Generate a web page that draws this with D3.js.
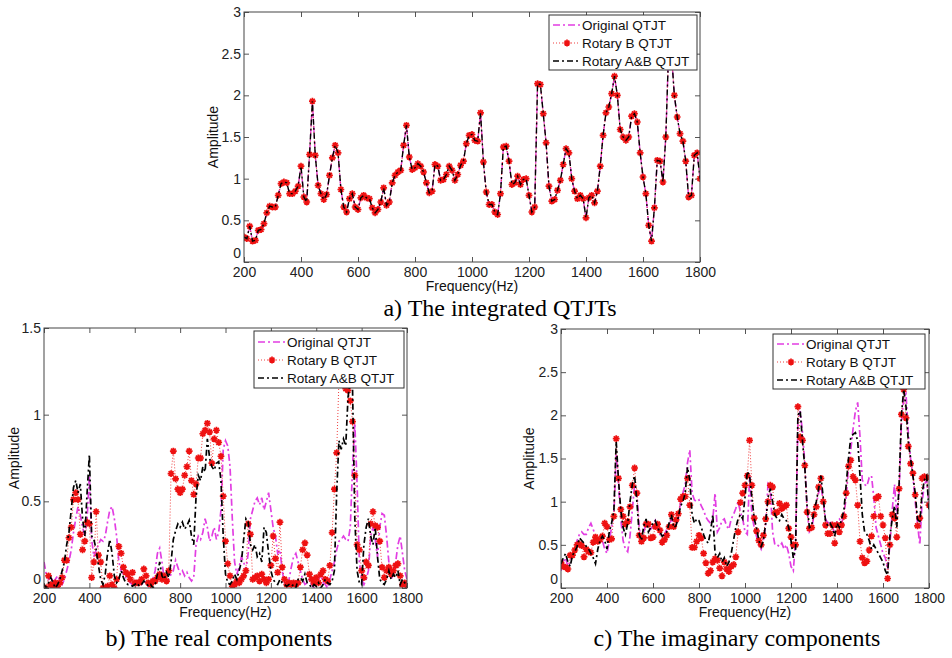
<!DOCTYPE html>
<html>
<head>
<meta charset="utf-8">
<script src="https://cdn.jsdelivr.net/npm/d3@7"></script>
<style>
body { margin: 0; background: #fff; }
svg text { font-family: "Liberation Sans", Arial, sans-serif; }
</style>
</head>
<body>
<div id="chart"></div>
<script>
// sample grid (Hz) and axis ticks
const freqHz = d3.range(200, 1801, 10);
const xTickVals = [200, 400, 600, 800, 1000, 1200, 1400, 1600, 1800];
const yTicksA = [0, 0.5, 1, 1.5, 2, 2.5, 3];
const yTicksB = [0, 0.5, 1, 1.5];
const yTicksC = [0, 0.5, 1, 1.5, 2, 2.5, 3];
const seriesNames = ['Original QTJT', 'Rotary B QTJT', 'Rotary A&B QTJT'];

// a) integrated - the three curves lie on top of each other
const integratedAmp = [
  0.30,0.28,0.43,0.25,0.26,0.38,0.39,0.46,0.59,0.67,
  0.66,0.66,0.80,0.94,0.96,0.95,0.82,0.82,0.85,0.91,
  1.15,0.78,0.72,1.29,1.93,1.28,0.92,0.82,0.75,0.81,
  1.04,1.25,1.40,1.31,0.87,0.66,0.60,0.76,0.82,0.66,
  0.63,0.77,0.80,0.77,0.76,0.65,0.59,0.63,0.72,0.89,
  0.68,0.72,0.95,1.04,1.08,1.10,1.40,1.64,1.26,1.11,
  1.13,1.18,1.15,1.08,0.95,0.83,0.85,1.17,1.15,0.98,
  0.99,1.05,1.15,1.10,0.98,1.05,1.16,1.21,1.42,1.52,
  1.53,1.46,1.45,1.79,1.20,0.84,0.69,0.69,0.60,0.57,
  0.82,1.38,1.39,1.21,0.93,0.95,1.03,0.93,0.99,1.00,
  0.80,0.60,0.66,2.14,2.13,1.78,1.43,0.91,0.73,0.75,
  0.86,0.98,1.17,1.36,1.31,1.00,0.85,0.76,0.80,0.76,
  0.53,0.77,0.80,0.71,0.85,1.15,1.52,1.79,1.86,2.02,
  2.23,2.00,1.59,1.50,1.46,1.50,1.75,1.78,1.68,1.31,
  1.02,0.82,0.44,0.25,0.65,1.22,1.21,0.96,1.50,2.55,
  2.50,2.00,1.74,1.54,1.45,1.21,0.78,0.80,1.28,1.31,
  1.00
];

// b) real components
const realOriginal = [
  0.15,0.08,0.05,0.07,0.03,0.05,0.07,0.04,0.02,0.05,
  0.10,0.15,0.22,0.32,0.40,0.47,0.42,0.35,0.30,0.40,
  0.65,0.28,0.18,0.22,0.25,0.28,0.27,0.30,0.38,0.45,
  0.47,0.40,0.30,0.15,0.10,0.08,0.06,0.05,0.03,0.02,
  0.03,0.05,0.03,0.02,0.04,0.03,0.01,0.03,0.05,0.10,
  0.20,0.23,0.15,0.05,0.03,0.05,0.08,0.10,0.16,0.12,
  0.08,0.10,0.07,0.09,0.06,0.04,0.06,0.25,0.30,0.28,
  0.32,0.40,0.35,0.27,0.30,0.35,0.28,0.32,0.45,0.80,
  0.85,0.82,0.70,0.40,0.15,0.08,0.12,0.18,0.15,0.10,
  0.20,0.40,0.45,0.50,0.52,0.48,0.52,0.45,0.50,0.55,
  0.45,0.35,0.30,0.20,0.22,0.10,0.03,0.02,0.05,0.12,
  0.18,0.20,0.15,0.10,0.05,0.02,0.03,0.05,0.02,0.00,
  0.02,0.05,0.08,0.03,0.02,0.00,0.05,0.10,0.15,0.22,
  0.27,0.28,0.30,0.28,0.27,0.35,0.70,0.95,0.60,0.15,
  0.05,0.02,0.05,0.10,0.30,0.35,0.28,0.18,0.35,0.43,
  0.42,0.30,0.15,0.05,0.08,0.15,0.25,0.30,0.20,0.10,
  0.05
];
const realRotB = [
  0.00,0.00,0.07,0.02,0.00,0.03,0.01,0.03,0.06,0.16,
  0.16,0.29,0.35,0.51,0.55,0.51,0.31,0.22,0.27,0.38,
  0.37,0.06,0.15,0.44,0.19,0.15,0.00,0.00,0.01,0.07,
  0.02,0.00,0.05,0.24,0.20,0.12,0.09,0.08,0.05,0.09,
  0.03,0.03,0.03,0.05,0.11,0.07,0.03,0.02,0.04,0.04,
  0.06,0.08,0.05,0.07,0.04,0.10,0.66,0.79,0.63,0.57,
  0.55,0.57,0.65,0.70,0.79,0.62,0.54,0.60,0.75,0.75,
  0.89,0.91,0.95,0.90,0.72,0.86,0.91,0.84,0.76,0.53,
  0.27,0.14,0.07,0.01,0.02,0.04,0.03,0.05,0.07,0.10,
  0.37,0.31,0.05,0.06,0.07,0.04,0.08,0.05,0.03,0.05,
  0.13,0.30,0.17,0.09,0.38,0.12,0.05,0.02,0.03,0.02,
  0.03,0.02,0.03,0.12,0.22,0.26,0.19,0.08,0.05,0.03,
  0.06,0.03,0.08,0.10,0.05,0.04,0.13,0.32,0.57,0.78,
  1.20,1.25,1.22,1.15,1.14,1.08,0.96,0.65,0.25,0.22,
  0.10,0.06,0.15,0.13,0.37,0.44,0.36,0.35,0.27,0.12,
  0.06,0.10,0.12,0.08,0.10,0.13,0.14,0.07,0.02,0.03,
  0.01
];
const realRotAB = [
  0.02,0.00,0.03,0.06,0.03,0.00,0.02,0.05,0.10,0.15,
  0.25,0.32,0.45,0.58,0.62,0.55,0.60,0.40,0.30,0.55,
  0.77,0.30,0.28,0.22,0.13,0.05,0.02,0.08,0.20,0.28,
  0.20,0.07,0.03,0.05,0.10,0.06,0.03,0.02,0.02,0.01,
  0.02,0.03,0.01,0.02,0.04,0.03,0.01,0.02,0.00,0.02,
  0.08,0.15,0.07,0.05,0.09,0.06,0.15,0.28,0.33,0.37,
  0.35,0.38,0.34,0.36,0.39,0.30,0.25,0.52,0.65,0.62,
  0.70,0.67,0.86,0.75,0.70,0.68,0.72,0.73,0.62,0.30,
  0.08,0.03,0.02,0.04,0.08,0.05,0.10,0.15,0.28,0.40,
  0.38,0.25,0.22,0.25,0.18,0.20,0.15,0.35,0.32,0.20,
  0.10,0.05,0.03,0.02,0.05,0.03,0.02,0.01,0.02,0.01,
  0.02,0.00,0.05,0.06,0.04,0.08,0.03,0.02,0.00,0.02,
  0.01,0.03,0.00,0.02,0.05,0.03,0.02,0.04,0.10,0.55,
  0.85,0.80,0.86,0.82,1.10,1.20,1.15,0.40,0.10,0.03,
  0.02,0.25,0.35,0.40,0.30,0.25,0.35,0.18,0.05,0.03,
  0.02,0.05,0.10,0.05,0.08,0.06,0.10,0.02,0.05,0.03,
  0.01
];

// c) imaginary components
const imagOriginal = [
  0.20,0.30,0.35,0.25,0.30,0.40,0.45,0.55,0.62,0.65,
  0.62,0.62,0.70,0.75,0.68,0.60,0.55,0.58,0.55,0.45,
  0.40,0.55,0.70,0.85,1.55,1.20,0.80,0.55,0.45,0.42,
  0.60,0.90,1.20,1.10,0.70,0.55,0.65,0.75,0.70,0.68,
  0.72,0.78,0.70,0.62,0.60,0.62,0.68,0.72,0.80,0.75,
  0.72,0.80,1.00,1.10,1.20,1.45,1.60,1.10,1.02,1.00,
  1.02,0.95,0.90,0.82,0.78,0.75,0.80,1.10,0.65,0.70,
  0.78,0.80,0.72,0.68,0.80,0.85,0.92,1.00,0.88,0.80,
  0.65,0.62,1.30,0.85,0.70,0.60,0.50,0.45,0.55,0.75,
  1.20,1.15,0.65,0.50,0.50,0.48,0.52,0.45,0.50,0.40,
  0.25,0.20,0.55,1.90,2.05,1.80,1.45,0.90,0.65,0.68,
  0.85,0.98,1.10,1.20,1.00,0.80,0.75,0.78,0.72,0.62,
  0.78,0.80,0.75,0.85,1.05,1.40,1.60,1.85,2.05,2.15,
  1.75,1.25,1.20,1.18,1.28,1.30,1.05,0.70,0.60,0.50,
  0.40,0.35,0.22,0.50,0.90,1.20,0.85,1.10,1.90,2.20,
  2.25,1.80,1.50,1.30,1.00,0.75,0.50,1.00,1.20,1.25,
  0.95
];
const imagRotB = [
  0.29,0.25,0.24,0.22,0.38,0.38,0.44,0.50,0.51,0.49,
  0.36,0.45,0.42,0.41,0.53,0.59,0.54,0.56,0.60,0.75,
  0.71,0.56,0.57,0.83,1.73,1.27,0.91,0.83,0.74,0.77,
  0.94,1.19,1.39,1.10,0.61,0.54,0.58,0.74,0.74,0.58,
  0.59,0.71,0.74,0.67,0.53,0.56,0.61,0.71,0.85,0.71,
  0.79,0.86,1.03,1.06,1.06,1.27,0.96,0.47,0.47,0.54,
  0.61,0.58,0.40,0.29,0.17,0.20,0.30,0.34,0.32,0.23,
  0.14,0.30,0.22,0.19,0.25,0.27,0.36,0.65,0.99,1.10,
  1.19,1.30,1.71,1.19,0.81,0.66,0.55,0.50,0.61,0.80,
  1.00,1.19,1.17,0.87,0.88,0.98,0.92,0.94,0.96,0.69,
  0.59,0.50,0.50,2.10,1.75,1.71,1.42,0.88,0.69,0.70,
  0.85,0.94,1.17,1.27,1.00,0.73,0.63,0.63,0.73,0.52,
  0.73,0.65,0.73,0.83,1.10,1.41,1.48,1.29,1.25,0.96,
  0.54,0.35,0.29,0.31,0.44,0.60,0.83,1.04,1.06,0.83,
  0.73,0.58,0.11,0.50,0.85,0.81,0.59,1.15,2.01,2.30,
  1.97,1.64,1.44,1.33,1.08,0.72,0.81,1.27,1.29,1.28,
  0.96
];
const imagRotAB = [
  0.28,0.35,0.40,0.30,0.25,0.38,0.42,0.48,0.58,0.55,
  0.52,0.48,0.45,0.40,0.35,0.28,0.45,0.55,0.60,0.55,
  0.45,0.65,0.75,0.90,1.70,1.25,0.90,0.70,0.62,0.75,
  1.00,1.20,1.30,1.00,0.62,0.55,0.72,0.80,0.65,0.70,
  0.75,0.78,0.70,0.65,0.60,0.62,0.65,0.75,0.85,0.70,
  0.72,0.82,0.95,1.00,1.10,1.40,1.25,0.85,0.75,0.80,
  0.78,0.70,0.62,0.55,0.52,0.65,0.85,0.40,0.35,0.40,
  0.30,0.35,0.25,0.30,0.40,0.55,0.70,0.80,0.85,0.80,
  1.05,1.35,1.30,1.05,0.80,0.70,0.55,0.48,0.55,0.75,
  1.05,1.15,1.00,0.85,0.80,0.78,0.85,0.80,0.78,0.70,
  0.55,0.35,0.45,2.00,2.05,1.70,1.40,0.95,0.70,0.72,
  0.90,1.00,1.15,1.30,1.05,0.78,0.72,0.75,0.70,0.60,
  0.75,0.70,0.80,0.90,1.20,1.50,1.75,1.78,1.80,1.70,
  1.30,0.85,0.65,0.62,0.55,0.45,0.50,0.45,0.40,0.35,
  0.30,0.20,0.15,0.60,0.80,0.95,0.70,1.20,2.00,2.30,
  2.10,1.70,1.50,1.30,1.10,0.80,0.75,1.10,1.25,1.30,
  0.90
];

const svg = d3.select('#chart')
  .append('svg')
  .attr('width', 952)
  .attr('height', 658);

const starPath = 'M-3.4,0H3.4M0,-3.4V3.4M-2.4,-2.4L2.4,2.4M-2.4,2.4L2.4,-2.4';

// line styles for the three series
function styleSeries(sel, k, w) {
  if (k === 0) {
    sel.attr('stroke', '#e23ee2').attr('stroke-width', w).attr('stroke-dasharray', '7,3,2,3');
  } else if (k === 1) {
    sel.attr('stroke', '#f04040').attr('stroke-width', 1).attr('stroke-dasharray', '1,2');
  } else {
    sel.attr('stroke', '#000').attr('stroke-width', w).attr('stroke-dasharray', '6,3,2,3');
  }
}

function drawPanel(p) {
  const x = d3.scaleLinear().domain([200, 1800]).range([p.left, p.right]);
  const y = d3.scaleLinear().domain([0, p.yMax]).range([p.bottom, p.top]);
  const g = svg.append('g');

  g.append('clipPath').attr('id', 'clip-' + p.id)
    .append('rect')
    .attr('x', p.left).attr('y', p.top)
    .attr('width', p.right - p.left).attr('height', p.bottom - p.top);

  const fixAxis = a => {
    a.select('.domain').remove();
    a.attr('font-size', 14).attr('font-family', '"Liberation Sans", Arial, sans-serif');
    a.selectAll('.tick line').attr('stroke', '#555');
    a.selectAll('.tick text').attr('fill', '#222');
  };

  g.append('g').attr('transform', `translate(0,${p.bottom})`)
    .call(d3.axisBottom(x).tickValues(xTickVals).tickFormat(d => String(d)).tickSizeInner(-5).tickSizeOuter(0).tickPadding(5))
    .call(fixAxis);
  g.append('g').attr('transform', `translate(0,${p.top})`)
    .call(d3.axisTop(x).tickValues(xTickVals).tickFormat('').tickSizeInner(-5).tickSizeOuter(0))
    .call(fixAxis);
  const yAx = g.append('g').attr('transform', `translate(${p.left},0)`)
    .call(d3.axisLeft(y).tickValues(p.yTicks).tickFormat(d => String(d)).tickSizeInner(-5).tickSizeOuter(0).tickPadding(3))
    .call(fixAxis);
  // lift the "0" a little so it does not sit on the first x label
  yAx.selectAll('.tick text').filter(d => d === 0).attr('dy', '-0.3em');
  g.append('g').attr('transform', `translate(${p.right},0)`)
    .call(d3.axisRight(y).tickValues(p.yTicks).tickFormat('').tickSizeInner(-5).tickSizeOuter(0))
    .call(fixAxis);

  const plot = g.append('g').attr('clip-path', `url(#clip-${p.id})`);
  const line = d3.line().x((d, i) => x(freqHz[i])).y(d => y(d));

  p.series.forEach((vals, k) => {
    plot.append('path')
      .datum(vals)
      .attr('fill', 'none')
      .attr('d', line)
      .call(styleSeries, k, p.lw);
    if (k === 1) {
      plot.selectAll('.mk' + p.id)
        .data(vals)
        .join('path')
        .attr('class', 'mk' + p.id)
        .attr('transform', (d, i) => `translate(${x(freqHz[i])},${y(d)})`)
        .attr('d', starPath)
        .attr('stroke', '#ee1111')
        .attr('stroke-width', 1.7)
        .attr('fill', 'none');
    }
  });

  g.append('rect')
    .attr('x', p.left).attr('y', p.top)
    .attr('width', p.right - p.left).attr('height', p.bottom - p.top)
    .attr('fill', 'none').attr('stroke', '#444').attr('stroke-width', 1);

  // legend
  const L = p.legend;
  g.append('rect')
    .attr('x', L.x).attr('y', L.y).attr('width', L.w).attr('height', L.h)
    .attr('fill', '#fff').attr('stroke', '#333').attr('stroke-width', 1);
  seriesNames.forEach((name, k) => {
    const ry = L.y + L.first + k * L.step;
    g.append('line')
      .attr('x1', L.x + 4).attr('x2', L.x + 31).attr('y1', ry).attr('y2', ry)
      .call(styleSeries, k, p.lw);
    if (k === 1) {
      g.append('path').attr('transform', `translate(${L.x + 18},${ry})`)
        .attr('d', starPath).attr('stroke', '#ee1111').attr('stroke-width', 1.7);
    }
    g.append('text')
      .attr('x', L.x + 33).attr('y', ry)
      .attr('dy', '0.35em')
      .attr('font-size', 13.5)
      .attr('fill', '#111')
      .text(name);
  });

  // axis titles and caption
  g.append('text')
    .attr('x', (p.left + p.right) / 2).attr('y', p.bottom + 29)
    .attr('text-anchor', 'middle').attr('font-size', 14).attr('fill', '#111')
    .text('Frequency(Hz)');
  g.append('text')
    .attr('transform', `translate(${p.yLabelX},${(p.top + p.bottom) / 2}) rotate(-90)`)
    .attr('text-anchor', 'middle').attr('dy', '0.35em').attr('font-size', 14).attr('fill', '#111')
    .text('Amplitude');
  g.append('text')
    .attr('x', p.capX).attr('y', p.capY)
    .attr('text-anchor', 'middle')
    .style('font-family', '"Liberation Serif", "Times New Roman", serif')
    .attr('font-size', 24).attr('fill', '#000')
    .text(p.caption);
}

drawPanel({
  id: 'a', left: 244, right: 700, top: 12, bottom: 262, yMax: 3, yTicks: yTicksA, lw: 1.4,
  series: [integratedAmp, integratedAmp, integratedAmp],
  legend: { x: 549, y: 15, w: 148, h: 55, first: 10, step: 18 },
  yLabelX: 213, capX: 500, capY: 316, caption: 'a) The integrated QTJTs'
});
drawPanel({
  id: 'b', left: 44, right: 407, top: 328, bottom: 588, yMax: 1.5, yTicks: yTicksB, lw: 1.7,
  series: [realOriginal, realRotB, realRotAB],
  legend: { x: 254, y: 331, w: 150, h: 57, first: 11, step: 18 },
  yLabelX: 14, capX: 219, capY: 646, caption: 'b) The real components'
});
drawPanel({
  id: 'c', left: 561, right: 929, top: 329, bottom: 588, yMax: 3, yTicks: yTicksC, lw: 1.7,
  series: [imagOriginal, imagRotB, imagRotAB],
  legend: { x: 773, y: 334, w: 152, h: 55, first: 10, step: 18 },
  yLabelX: 529, capX: 737, capY: 646, caption: 'c) The imaginary components'
});
</script>
</body>
</html>
